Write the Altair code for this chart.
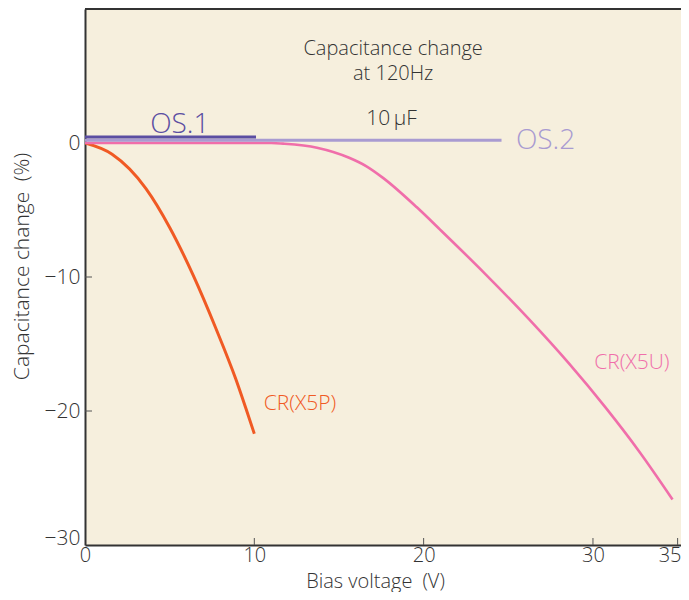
import altair as alt
import pandas as pd

# ---- data ----
x_tick_values = [0, 10, 20, 30, 35]
y_tick_values = [0, -10, -20, -30]
x_inner_ticks = [10, 20, 30, 35]
y_inner_ticks = [-10, -20]

x5p_v = [0, 1.6, 3.6, 5.0, 6.4, 7.75, 8.9, 9.5, 10.0]
x5p_c = [0, -0.84, -3.4, -6.3, -9.9, -13.9, -17.6, -19.8, -21.7]

x5u_v = [0, 11.0, 11.7, 13.7, 15.6, 16.6, 17.6, 19.6, 21.0, 23.66, 26.22, 28.58, 30.75, 32.72, 34.7]
x5u_c = [0, 0, -0.05, -0.35, -1.1, -1.72, -2.6, -4.8, -6.5, -9.8, -13.15, -16.45, -19.75, -23.0, -26.6]

os1_v = [0, 10.1]
os1_c = [0.45, 0.45]
os2_v = [0, 24.6]
os2_c = [0.2, 0.2]

labels = ["Capacitance change", "at 120Hz", "10\u2009\u03bcF", "OS.1", "OS.2", "CR(X5P)", "CR(X5U)"]
label_v = [18.2, 18.2, 18.1, 5.6, 27.2, 12.7, 32.3]
label_c = [7.0, 5.15, 1.8, 1.35, 0.15, -19.5, -16.4]

# ---- styling ----
FONT = "Open Sans"
W, H = 596, 536
C_X5P = "#f05a24"
C_X5U = "#f06eaa"
C_OS1 = "#5b4ea2"
C_OS2 = "#a99bd1"
C_TXT = "#333333"

xs = alt.Scale(domain=[0, 35.2], nice=False, zero=False)
ys = alt.Scale(domain=[-30, 10], nice=False, zero=False)

xaxis = alt.Axis(values=x_tick_values, ticks=False, grid=False, title="Bias voltage\u2002(V)",
                 labelFontSize=20, labelPadding=0, titleFontSize=20, labelFlush=False,
                 labelOffset={"condition": {"test": "datum.value == 35", "value": -8}, "value": 0},
                 titleX=290, titleY=42, titleBaseline="alphabetic",
                 domainColor="#333333", domainWidth=2, labelColor=C_TXT, titleColor=C_TXT,
                 labelFont=FONT, titleFont=FONT, labelFontWeight=300, titleFontWeight=300)
yaxis = alt.Axis(values=y_tick_values, ticks=False, grid=False, title="Capacitance change\u2002(%)",
                 labelFontSize=21, labelPadding=5, titleFontSize=21, labelFlush=False,
                 labelOffset={"condition": {"test": "datum.value == -30", "value": -7}, "value": 0},
                 titleX=-57, titleY=257, titleBaseline="alphabetic",
                 domainColor="#333333", domainWidth=2, labelColor=C_TXT, titleColor=C_TXT,
                 labelFont=FONT, titleFont=FONT, labelFontWeight=300, titleFontWeight=300)

X = alt.X("v:Q", scale=xs, axis=xaxis)
Y = alt.Y("c:Q", scale=ys, axis=yaxis)


def line(vs, cs, color, width):
    df = pd.DataFrame({"v": vs, "c": cs})
    return alt.Chart(df).mark_line(color=color, strokeWidth=width, interpolate="monotone",
                                   clip=True).encode(x=X, y=Y)


def label(i, color, size):
    df = pd.DataFrame({"v": [label_v[i]], "c": [label_c[i]], "t": [labels[i]]})
    return alt.Chart(df).mark_text(color=color, fontSize=size, font=FONT, fontWeight=300,
                                   align="center", baseline="middle").encode(x=X, y=Y, text="t:N")


xt = alt.Chart(pd.DataFrame({"v": x_inner_ticks})).mark_rule(color="#555555", strokeWidth=1).encode(
    x=X, y=alt.value(H), y2=alt.value(H - 7))
yt = alt.Chart(pd.DataFrame({"c": y_inner_ticks})).mark_rule(color="#555555", strokeWidth=1).encode(
    y=Y, x=alt.value(0), x2=alt.value(7))
top_border = alt.Chart(pd.DataFrame({"c": [10]})).mark_rule(color="#333333", strokeWidth=2).encode(
    y=Y, x=alt.value(0), x2=alt.value(W + 10))

chart = alt.layer(
    line(x5p_v, x5p_c, C_X5P, 3),
    line(x5u_v, x5u_c, C_X5U, 2.6),
    line(os2_v, os2_c, C_OS2, 3),
    line(os1_v, os1_c, C_OS1, 3),
    xt, yt, top_border,
    label(0, C_TXT, 20),
    label(1, C_TXT, 20),
    label(2, C_TXT, 21),
    label(3, C_OS1, 28),
    label(4, C_OS2, 28),
    label(5, C_X5P, 21),
    label(6, C_X5U, 21),
).properties(
    width=W, height=H,
    autosize=alt.AutoSizeParams(type="none"),
    padding={"left": 77, "top": 1, "right": 0, "bottom": 47},
    background="white",
).configure_view(
    fill="#f6efdd", strokeWidth=0
)

chart.save("out.html", embed_options={"renderer": "svg", "actions": False})
